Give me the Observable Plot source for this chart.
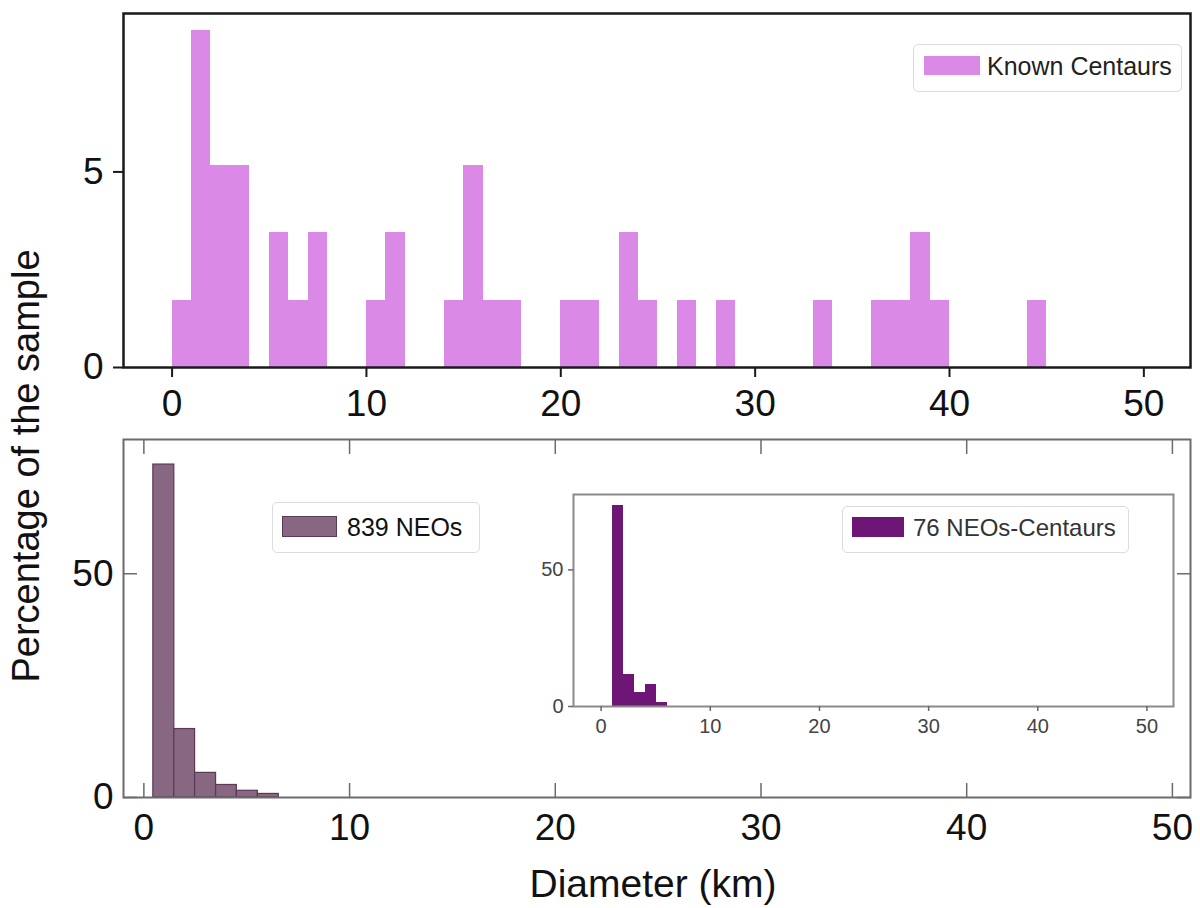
<!DOCTYPE html>
<html><head><meta charset="utf-8">
<script src="https://cdn.jsdelivr.net/npm/d3@7"></script>
<script src="https://cdn.jsdelivr.net/npm/@observablehq/plot@0.6"></script>
<style>
body{margin:0;background:#fff;}
#wrap{position:relative;width:1200px;height:908px;font-family:"Liberation Sans",Arial,Helvetica,sans-serif;overflow:hidden;}
#wrap svg{position:absolute;}
.legend{position:absolute;border:1.5px solid #dcdcdc;border-radius:5px;background:#fff;box-sizing:border-box;}
.sw{position:absolute;}
.lt{position:absolute;white-space:nowrap;line-height:1;}
.title{position:absolute;white-space:nowrap;line-height:1;color:#111;}
</style></head><body><div id="wrap"></div>
<script>
// ---- data ----
const xTicks = [0, 10, 20, 30, 40, 50];
const topYTicks = [0, 5];
const bottomYTicks = [0, 50];
const insetYTicks = [0, 50];

// Known Centaurs: lower bin edge (km, width 1) and percentage of sample
const centaurBinStart = [0, 1, 2, 3, 5, 6, 7, 10, 11, 14, 15, 16, 17, 20, 21, 23, 24, 26, 28, 33, 36, 37, 38, 39, 44];
const centaurPct      = [1.72, 8.62, 5.17, 5.17, 3.45, 1.72, 3.45, 1.72, 3.45, 1.72, 5.17, 1.72, 1.72, 1.72, 1.72, 3.45, 1.72, 1.72, 1.72, 1.72, 1.72, 1.72, 3.45, 1.72, 1.72];
const centaurBinWidth = 1;

// 839 NEOs
const neoBinEdges = [0.46, 1.48, 2.49, 3.51, 4.52, 5.54, 6.56];
const neoPct      = [74.4, 15.3, 5.5, 2.8, 1.5, 0.8];

// 76 NEOs-Centaurs (inset)
const ncBinEdges = [1.05, 2.06, 3.07, 4.08, 5.05, 6.07];
const ncPct      = [73.7, 11.8, 5.3, 7.9, 1.3];

const legendTop = "Known Centaurs";
const legendNeo = "839 NEOs";
const legendNc = "76 NEOs-Centaurs";
const xTitle = "Diameter (km)";
const yTitle = "Percentage of the sample";

// ---- build tables ----
const centaur = centaurBinStart.map((s, i) => ({x1: s, x2: s + centaurBinWidth, y: centaurPct[i]}));
const neo = neoPct.map((v, i) => ({x1: neoBinEdges[i], x2: neoBinEdges[i + 1], y: v}));
const nc = ncPct.map((v, i) => ({x1: ncBinEdges[i], x2: ncBinEdges[i + 1], y: v}));

const FONT = "'Liberation Sans', Arial, Helvetica, sans-serif";
const wrap = document.getElementById("wrap");

// ---- top panel ----
const topPlot = Plot.plot({
  width: 1200, height: 420,
  marginLeft: 123, marginRight: 10, marginTop: 13, marginBottom: 53,
  style: {fontFamily: FONT, fontSize: "37px", color: "#111", background: "transparent", overflow: "visible"},
  x: {domain: [-2.5, 52.4]},
  y: {domain: [0, 9.05]},
  marks: [
    Plot.rectY(centaur, {x1: "x1", x2: "x2", y1: 0, y2: "y", fill: "#da89e6", shapeRendering: "crispEdges"}),
    Plot.frame({stroke: "#1a1a1a", strokeWidth: 2.5}),
    Plot.axisX(xTicks, {anchor: "bottom", tickSize: 10, tickPadding: 12, stroke: "#1a1a1a", strokeWidth: 2, fontSize: 37, label: null}),
    Plot.axisY(topYTicks, {anchor: "left", tickSize: 10, tickPadding: 10, stroke: "#1a1a1a", strokeWidth: 2, fontSize: 37, label: null})
  ]
});
topPlot.style.left = "0px"; topPlot.style.top = "0px";
wrap.appendChild(topPlot);

// ---- bottom panel ----
const botPlot = Plot.plot({
  width: 1200, height: 440,
  marginLeft: 123, marginRight: 10, marginTop: 19, marginBottom: 63,
  style: {fontFamily: FONT, fontSize: "37px", color: "#111", background: "transparent", overflow: "visible"},
  x: {domain: [-0.99, 50.88]},
  y: {domain: [0, 80]},
  marks: [
    Plot.rectY(neo, {x1: "x1", x2: "x2", y1: 0, y2: "y", fill: "#876781", stroke: "#5a3a55", strokeWidth: 1.2}),
    Plot.frame({stroke: "#6b6b6b", strokeWidth: 2}),
    Plot.axisX(xTicks, {anchor: "bottom", tickSize: -14, tickPadding: 30, stroke: "#6b6b6b", strokeWidth: 1.5, fontSize: 37, label: null}),
    Plot.axisX(xTicks, {anchor: "top", tickSize: -14, tickFormat: () => "", stroke: "#6b6b6b", strokeWidth: 1.5, label: null}),
    Plot.axisY(bottomYTicks, {anchor: "left", tickSize: -14, tickPadding: 24, stroke: "#6b6b6b", strokeWidth: 1.5, fontSize: 37, label: null}),
    Plot.axisY(bottomYTicks, {anchor: "right", tickSize: -14, tickFormat: () => "", stroke: "#6b6b6b", strokeWidth: 1.5, label: null})
  ]
});
botPlot.style.left = "0px"; botPlot.style.top = "420px";
wrap.appendChild(botPlot);

// ---- inset ----
const insetPlot = Plot.plot({
  width: 670, height: 300,
  marginLeft: 53, marginRight: 17, marginTop: 24, marginBottom: 64,
  style: {fontFamily: FONT, fontSize: "20px", color: "#444", background: "transparent", overflow: "visible"},
  x: {domain: [-2.53, 52.43]},
  y: {domain: [0, 77.6]},
  marks: [
    Plot.frame({fill: "#fff"}),
    Plot.rectY(nc, {x1: "x1", x2: "x2", y1: 0, y2: "y", fill: "#6e1675", shapeRendering: "crispEdges"}),
    Plot.frame({stroke: "#8a8a8a", strokeWidth: 2}),
    Plot.axisX(xTicks, {anchor: "bottom", tickSize: 5, tickPadding: 7, stroke: "#666", strokeWidth: 1.5, fontSize: 20, label: null}),
    Plot.axisY(insetYTicks, {anchor: "left", tickSize: 5, tickPadding: 5, stroke: "#666", strokeWidth: 1.5, fontSize: 20, label: null})
  ]
});
insetPlot.style.left = "520px"; insetPlot.style.top = "470px";
wrap.appendChild(insetPlot);

// ---- legends ----
function legend(label, color, edge, box, sw, txt) {
  const d = document.createElement("div");
  d.className = "legend";
  Object.assign(d.style, {left: box[0] + "px", top: box[1] + "px", width: box[2] + "px", height: box[3] + "px"});
  const s = document.createElement("div");
  s.className = "sw";
  Object.assign(s.style, {left: sw[0] + "px", top: sw[1] + "px", width: sw[2] + "px", height: sw[3] + "px", background: color, boxSizing: "border-box", border: edge ? "1px solid " + edge : "none"});
  const t = document.createElement("div");
  t.className = "lt";
  t.textContent = label;
  Object.assign(t.style, {left: txt[0] + "px", top: txt[1] + "px", fontSize: txt[2] + "px", color: txt[3]});
  d.appendChild(s); d.appendChild(t);
  wrap.appendChild(d);
}
legend(legendTop, "#da89e6", null, [913, 44, 269, 48], [10, 11, 56, 19], [73, 9, 25, "#222"]);
legend(legendNeo, "#876781", "#5a3a55", [272, 502, 208, 51], [9, 13, 55, 21], [74, 12, 25, "#111"]);
legend(legendNc, "#6e1675", null, [842, 506, 287, 47], [9, 10, 52, 20], [70, 9, 24, "#333"]);

// ---- axis titles ----
const xt = document.createElement("div");
xt.className = "title"; xt.textContent = xTitle;
Object.assign(xt.style, {left: "653px", top: "883px", fontSize: "39px", transform: "translate(-50%,-50%)"});
wrap.appendChild(xt);
const yt = document.createElement("div");
yt.className = "title"; yt.textContent = yTitle;
Object.assign(yt.style, {left: "26px", top: "466px", fontSize: "38px", transform: "translate(-50%,-50%) rotate(-90deg)"});
wrap.appendChild(yt);
</script>
</body></html>
